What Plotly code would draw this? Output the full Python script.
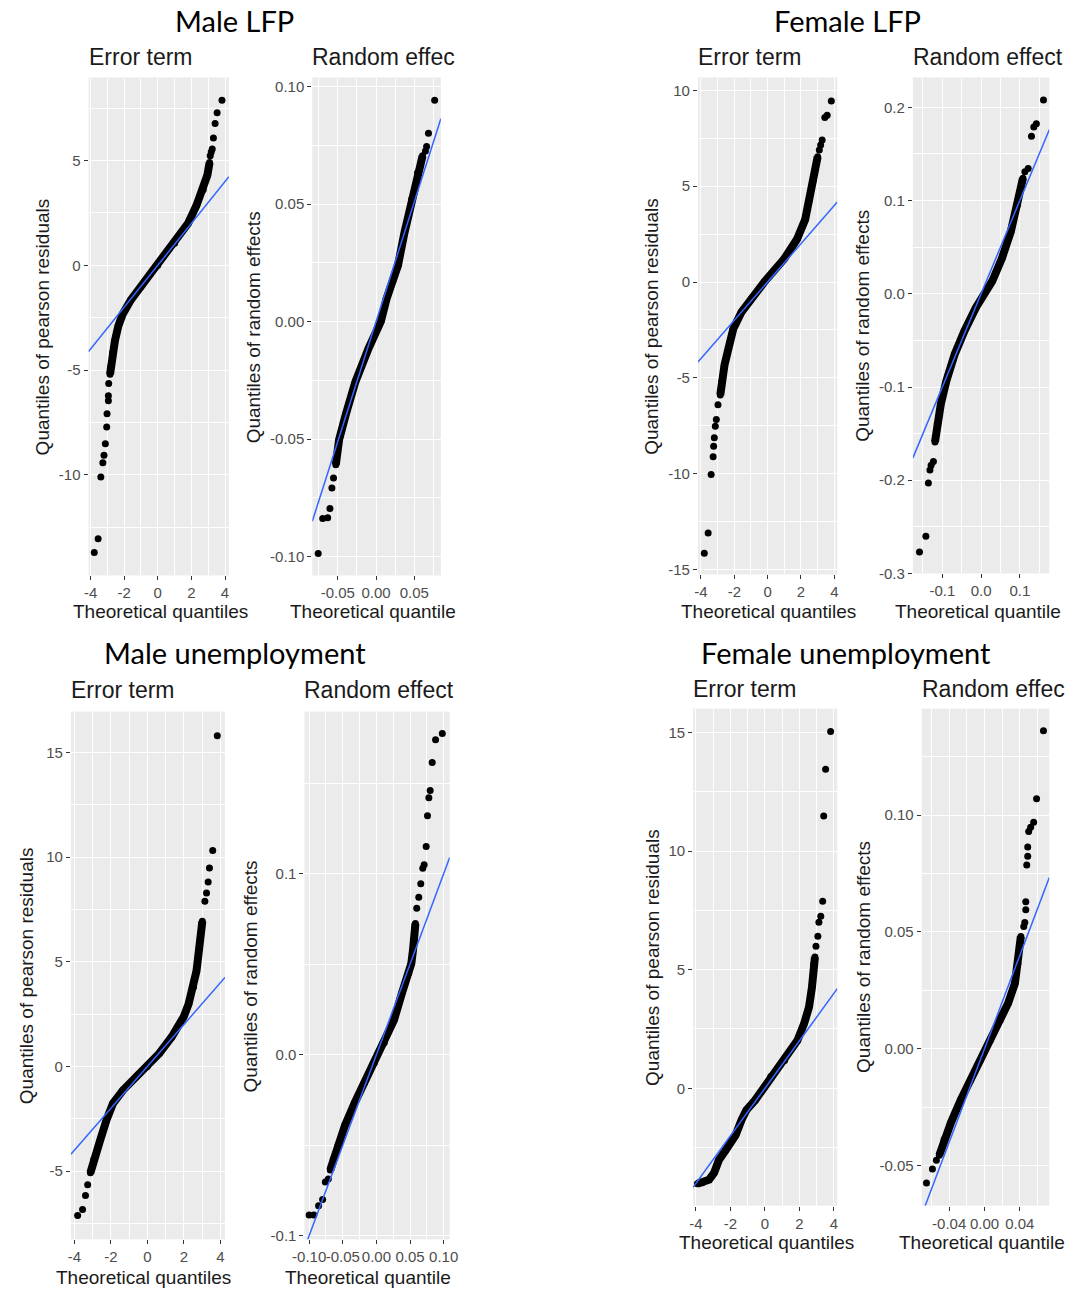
import plotly.graph_objects as go

W, H = 1073, 1301

# ---------------- data (theoretical quantile, sample quantile) ----------------
# Male LFP - error term (pearson residuals)
mlfp_err_body_x = [-2.84, -2.78, -2.69, -2.55, -2.35, -2.1, -1.6, -1.0, 0.0, 1.0, 1.8, 2.3, 2.7, 2.95, 3.08]
mlfp_err_body_y = [-5.2, -4.8, -4.17, -3.6, -2.9, -2.35, -1.65, -1.02, 0.0, 1.05, 2.0, 2.85, 3.6, 4.3, 4.9]
mlfp_err_tail_x = [-3.78, -3.55, -3.39, -3.27, -3.2, -3.12, -3.04, -3.02, -2.94, -2.94, -2.92, 3.12, 3.18, 3.24, 3.31, 3.41, 3.53, 3.82]
mlfp_err_tail_y = [-13.7, -13.05, -10.1, -9.42, -9.07, -8.52, -7.72, -7.09, -6.46, -6.22, -5.64, 5.23, 5.4, 5.55, 6.07, 6.76, 7.28, 7.87]

# Male LFP - random effects
mlfp_re_body_x = [-0.0526, -0.0483, -0.0397, -0.027, -0.0098, 0.0062, 0.0137, 0.0286, 0.0372, 0.0466, 0.0543, 0.0607]
mlfp_re_body_y = [-0.0609, -0.0503, -0.0397, -0.0256, -0.0114, 0.0, 0.0097, 0.0239, 0.038, 0.0521, 0.0634, 0.0705]
mlfp_re_tail_x = [-0.0756, -0.0697, -0.0632, -0.0603, -0.0577, -0.0556, 0.0645, 0.066, 0.0684, 0.0765]
mlfp_re_tail_y = [-0.0987, -0.0838, -0.0835, -0.0795, -0.0708, -0.0665, 0.0725, 0.0745, 0.0801, 0.0941]

# Female LFP - error term
flfp_err_body_x = [-2.84, -2.75, -2.59, -2.35, -2.06, -1.57, -0.98, -0.2, 0.98, 1.76, 2.25, 2.51, 2.75, 3.0]
flfp_err_body_y = [-5.89, -5.2, -4.34, -3.47, -2.44, -1.57, -0.88, 0.0, 1.19, 2.23, 3.26, 4.3, 5.34, 6.54]
flfp_err_tail_x = [-3.8, -3.57, -3.39, -3.27, -3.24, -3.2, -3.14, -3.08, -2.98, 3.1, 3.18, 3.27, 3.43, 3.57, 3.82]
flfp_err_tail_y = [-14.15, -13.1, -10.05, -9.12, -8.57, -8.13, -7.53, -7.18, -6.41, 6.89, 7.15, 7.41, 8.58, 8.7, 9.45]

# Female LFP - random effects
flfp_re_body_x = [-0.119, -0.113, -0.1038, -0.0894, -0.068, -0.043, -0.0135, 0.0287, 0.054, 0.0768, 0.0937, 0.1046, 0.108]
flfp_re_body_y = [-0.159, -0.1395, -0.118, -0.0932, -0.0647, -0.0398, -0.0149, 0.0135, 0.0384, 0.0669, 0.0953, 0.1167, 0.124]
flfp_re_tail_x = [-0.159, -0.1425, -0.136, -0.132, -0.129, -0.123, 0.113, 0.1215, 0.13, 0.136, 0.1426, 0.161]
flfp_re_tail_y = [-0.277, -0.26, -0.203, -0.189, -0.184, -0.18, 0.131, 0.1345, 0.169, 0.179, 0.1825, 0.208]

# Male unemployment - error term
mun_err_body_x = [-3.12, -2.94, -2.58, -2.24, -1.88, -1.34, -0.59, 0.0, 0.65, 1.34, 1.99, 2.26, 2.53, 2.69, 2.8, 2.9, 3.01]
mun_err_body_y = [-5.08, -4.46, -3.51, -2.56, -1.76, -1.14, -0.47, 0.0, 0.62, 1.42, 2.37, 2.99, 3.8, 4.56, 5.36, 6.08, 6.93]
mun_err_tail_x = [-3.82, -3.55, -3.39, -3.27, 3.15, 3.24, 3.33, 3.4, 3.58, 3.83]
mun_err_tail_y = [-7.12, -6.83, -6.17, -5.65, 7.89, 8.29, 8.81, 9.48, 10.31, 15.8]

# Male unemployment - random effects
mun_re_body_x = [-0.0686, -0.064, -0.057, -0.0467, -0.032, -0.0175, -0.003, 0.0117, 0.026, 0.038, 0.048, 0.052, 0.0545, 0.058]
mun_re_body_y = [-0.0637, -0.0577, -0.05, -0.039, -0.0264, -0.0154, -0.0044, 0.0066, 0.019, 0.034, 0.045, 0.0505, 0.058, 0.0725]
mun_re_tail_x = [-0.1, -0.093, -0.086, -0.08, -0.076, -0.0715, 0.06, 0.063, 0.066, 0.069, 0.071, 0.074, 0.076, 0.078, 0.08, 0.083, 0.088, 0.098]
mun_re_tail_y = [-0.0885, -0.0885, -0.0835, -0.08, -0.0703, -0.0687, 0.081, 0.087, 0.0945, 0.103, 0.105, 0.115, 0.132, 0.142, 0.146, 0.1615, 0.174, 0.1775]

# Female unemployment - error term
fun_err_body_x = [-3.92, -3.64, -3.24, -2.95, -2.67, -2.27, -1.7, -1.36, -1.08, -0.57, 0.0, 0.34, 1.14, 1.88, 2.27, 2.56, 2.73, 2.84, 2.9]
fun_err_body_y = [-4.02, -3.98, -3.85, -3.56, -3.02, -2.6, -1.97, -1.34, -0.92, -0.5, 0.08, 0.5, 1.17, 2.01, 2.72, 3.43, 4.27, 5.24, 5.53]
fun_err_tail_x = [2.96, 3.07, 3.13, 3.24, 3.35, 3.41, 3.52, 3.81]
fun_err_tail_y = [5.99, 6.41, 7.0, 7.25, 7.88, 11.48, 13.45, 15.04]

# Female unemployment - random effects
fun_re_body_x = [-0.0511, -0.0456, -0.0378, -0.0267, -0.0156, -0.0044, 0.0067, 0.0178, 0.0267, 0.0344, 0.0378, 0.0411]
fun_re_body_y = [-0.0455, -0.0387, -0.0314, -0.0217, -0.0132, -0.0047, 0.0038, 0.0123, 0.0195, 0.028, 0.0365, 0.048]
fun_re_tail_x = [-0.0656, -0.0589, -0.0544, 0.0444, 0.0456, 0.0467, 0.0467, 0.0478, 0.0489, 0.0489, 0.05, 0.0522, 0.0556, 0.0589, 0.0667]
fun_re_tail_y = [-0.0574, -0.0514, -0.0476, 0.0523, 0.054, 0.0595, 0.0629, 0.0786, 0.0824, 0.0863, 0.093, 0.0948, 0.0969, 0.107, 0.136]

# reference (qq) line: slope, intercept
qq_slope = [1.0, 1.02, 1.0, 1.0, 1.0, 1.0, 1.0, 1.0]
qq_intercept = [0.0, 0.0, 0.0, 0.0, 0.0, 0.0, 0.0, 0.0]

# tick values and decimals per panel
x_ticks = [[-4, -2, 0, 2, 4], [-0.05, 0.0, 0.05], [-4, -2, 0, 2, 4], [-0.1, 0.0, 0.1],
           [-4, -2, 0, 2, 4], [-0.1, -0.05, 0.0, 0.05, 0.1], [-4, -2, 0, 2, 4], [-0.04, 0.0, 0.04]]
x_dec = [0, 2, 0, 1, 0, 2, 0, 2]
y_ticks = [[-10, -5, 0, 5], [-0.1, -0.05, 0.0, 0.05, 0.1], [-15, -10, -5, 0, 5, 10], [-0.3, -0.2, -0.1, 0.0, 0.1, 0.2],
           [-5, 0, 5, 10, 15], [-0.1, 0.0, 0.1], [0, 5, 10, 15], [-0.05, 0.0, 0.05, 0.1]]
y_dec = [0, 2, 0, 1, 0, 1, 0, 2]

group_titles = ["Male LFP", "Female LFP", "Male unemployment", "Female unemployment"]
panel_titles = ["Error term", "Random effec", "Error term", "Random effect",
                "Error term", "Random effect", "Error term", "Random effec"]
y_titles = ["Quantiles of pearson residuals", "Quantiles of random effects"] * 4
x_titles = ["Theoretical quantiles", "Theoretical quantile"] * 4

bodies = [(mlfp_err_body_x, mlfp_err_body_y), (mlfp_re_body_x, mlfp_re_body_y),
          (flfp_err_body_x, flfp_err_body_y), (flfp_re_body_x, flfp_re_body_y),
          (mun_err_body_x, mun_err_body_y), (mun_re_body_x, mun_re_body_y),
          (fun_err_body_x, fun_err_body_y), (fun_re_body_x, fun_re_body_y)]
tails = [(mlfp_err_tail_x, mlfp_err_tail_y), (mlfp_re_tail_x, mlfp_re_tail_y),
         (flfp_err_tail_x, flfp_err_tail_y), (flfp_re_tail_x, flfp_re_tail_y),
         (mun_err_tail_x, mun_err_tail_y), (mun_re_tail_x, mun_re_tail_y),
         (fun_err_tail_x, fun_err_tail_y), (fun_re_tail_x, fun_re_tail_y)]

# ---------------- layout geometry (page pixels) ----------------
boxes = [(78, 221, 78, 579), (306, 437, 78, 579), (699, 841, 78, 578), (918, 1057, 78, 577),
         (60, 217, 716, 1247), (298, 446, 716, 1247), (694, 841, 713, 1213), (927, 1057, 713, 1213)]
x_ranges = [(-4.12, 4.23), (-0.0833, 0.0846), (-4.18, 4.18), (-0.176, 0.176),
            (-4.19, 4.25), (-0.107, 0.109), (-4.17, 4.2), (-0.071, 0.0733)]
y_ranges = [(-14.8, 8.96), (-0.108, 0.1038), (-15.26, 10.67), (-0.3, 0.232),
            (-8.26, 16.95), (-0.102, 0.1896), (-4.94, 16.0), (-0.067, 0.1455)]
title_pos = [(76, 57), (304, 57), (697, 57), (916, 57), (58, 694), (296, 694), (692, 693), (925, 693)]
ytitle_pos = [(32, 329), (247, 329), (652, 328), (867, 328), (15.5, 982), (244, 982), (652, 963), (867, 963)]
xtitle_pos = [(60, 615), (281, 615), (680, 615), (898, 615), (43, 1285), (276, 1285), (678, 1250), (902, 1250)]
group_pos = [(227, 21), (851, 21), (227, 657), (850, 657)]

AX_FONT = "Liberation Sans, Arial, sans-serif"


def px(x):
    return x / W


def py(y):
    return 1 - y / H


def fmt(v, d):
    s = f"{v:.{d}f}"
    return "0" + s[2:] if s.startswith("-0") and float(s) == 0 else s


def minors(t):
    step = t[1] - t[0]
    return [t[0] - step / 2] + [a + step / 2 for a in t]


fig = go.Figure()
layout = dict(width=W, height=H, margin=dict(l=0, r=0, t=0, b=0, pad=0), autosize=False,
              paper_bgcolor="white", plot_bgcolor="#EBEBEB", showlegend=False)
annotations = []

for i in range(8):
    k = i + 1
    xa, ya = (f"x{k}", f"y{k}") if k > 1 else ("x", "y")
    bx, by = bodies[i]
    tx, ty = tails[i]
    fig.add_trace(go.Scatter(x=bx, y=by, xaxis=xa, yaxis=ya, mode="lines+markers",
                             line=dict(color="black", width=8),
                             marker=dict(color="black", size=7), hoverinfo="skip"))
    fig.add_trace(go.Scatter(x=tx, y=ty, xaxis=xa, yaxis=ya, mode="markers",
                             marker=dict(color="black", size=7), hoverinfo="skip"))
    x0, x1 = x_ranges[i]
    fig.add_trace(go.Scatter(x=[x0, x1],
                             y=[qq_intercept[i] + qq_slope[i] * x0, qq_intercept[i] + qq_slope[i] * x1],
                             xaxis=xa, yaxis=ya, mode="lines",
                             line=dict(color="#3366FF", width=1.5), hoverinfo="skip"))
    l, r, t, b = boxes[i]
    common = dict(showgrid=True, gridcolor="white", gridwidth=1.4, zeroline=False, showline=False,
                  ticks="outside", ticklen=4, tickwidth=1, tickcolor="#333333",
                  tickfont=dict(family=AX_FONT, size=15, color="#4D4D4D"), tickangle=0,
                  fixedrange=True)
    layout["xaxis" + (str(k) if k > 1 else "")] = dict(
        common, domain=[px(l), px(r)], anchor=ya, range=list(x_ranges[i]),
        tickmode="array", tickvals=x_ticks[i], ticktext=[fmt(v, x_dec[i]) for v in x_ticks[i]],
        minor=dict(tickvals=minors(x_ticks[i]), showgrid=True, gridcolor="white", gridwidth=0.7, ticks=""))
    layout["yaxis" + (str(k) if k > 1 else "")] = dict(
        common, domain=[py(b), py(t)], anchor=xa, range=list(y_ranges[i]),
        tickmode="array", tickvals=y_ticks[i], ticktext=[fmt(v, y_dec[i]) for v in y_ticks[i]],
        minor=dict(tickvals=minors(y_ticks[i]), showgrid=True, gridcolor="white", gridwidth=0.7, ticks=""))

    annotations.append(dict(text=panel_titles[i], x=px(title_pos[i][0]), y=py(title_pos[i][1]),
                            xref="paper", yref="paper", xanchor="left", yanchor="middle", showarrow=False,
                            font=dict(family=AX_FONT, size=23, color="#1A1A1A")))
    annotations.append(dict(text=y_titles[i], x=px(ytitle_pos[i][0]), y=py(ytitle_pos[i][1]),
                            xref="paper", yref="paper", xanchor="center", yanchor="middle", showarrow=False,
                            textangle=-90, font=dict(family=AX_FONT, size=19, color="#1A1A1A")))
    annotations.append(dict(text=x_titles[i], x=px(xtitle_pos[i][0]), y=py(xtitle_pos[i][1]),
                            xref="paper", yref="paper", xanchor="left", yanchor="middle", showarrow=False,
                            font=dict(family=AX_FONT, size=19, color="#1A1A1A")))

for g in range(4):
    annotations.append(dict(text=group_titles[g], x=px(group_pos[g][0]), y=py(group_pos[g][1]),
                            xref="paper", yref="paper", xanchor="center", yanchor="middle", showarrow=False,
                            font=dict(family="Lato, sans-serif", size=29, color="black")))

layout["annotations"] = annotations
fig.update_layout(**layout)

# remove the browser's default 8px body margin so the figure sits at the page origin
post = ("document.body.style.margin='0';document.body.style.padding='0';"
        "document.documentElement.style.overflow='hidden';"
        "var d=document.getElementById('{plot_id}');"
        "d.style.position='absolute';d.style.left='0px';d.style.top='0px';")
fig.write_html("out.html", config={"displayModeBar": False}, post_script=post)
